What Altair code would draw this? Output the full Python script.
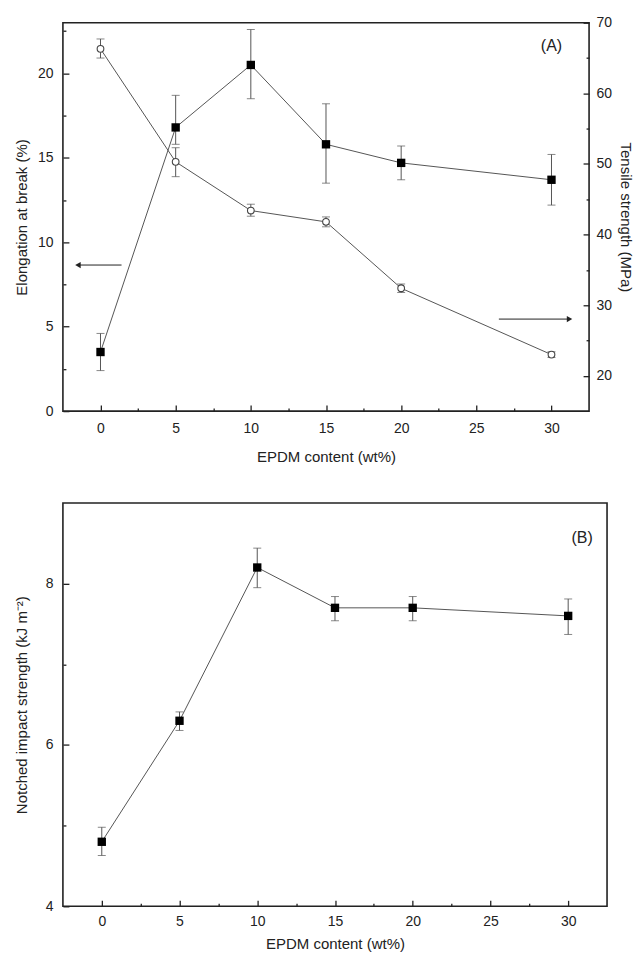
import altair as alt
import pandas as pd

# ---------------- data ----------------
epdm = [0, 5, 10, 15, 20, 30]

elong = [3.5, 16.8, 20.5, 15.8, 14.7, 13.7]
elong_lo = [2.4, 15.8, 18.5, 13.5, 13.7, 12.2]
elong_hi = [4.6, 18.7, 22.6, 18.2, 15.7, 15.2]

tensile = [66.3, 50.3, 43.4, 41.8, 32.4, 23.0]
tensile_lo = [65.0, 48.2, 42.6, 41.1, 31.8, 22.6]
tensile_hi = [67.7, 52.3, 44.3, 42.5, 33.0, 23.4]

impact = [4.8, 6.3, 8.2, 7.7, 7.7, 7.6]
impact_lo = [4.63, 6.18, 7.95, 7.54, 7.54, 7.37]
impact_hi = [4.98, 6.41, 8.44, 7.84, 7.84, 7.81]

x_major = [0, 5, 10, 15, 20, 25, 30]
x_minor = [2.5, 7.5, 12.5, 17.5, 22.5, 27.5]
elong_major = [0, 5, 10, 15, 20]
elong_minor = [2.5, 7.5, 12.5, 17.5, 22.5]
tensile_major = [20, 30, 40, 50, 60, 70]
tensile_minor = [25, 35, 45, 55, 65]
impact_major = [4, 6, 8]
impact_minor = [5, 7]

# annotation arrows (in wt% / elongation units)
arrow_x_tail = [1.4, 26.5]
arrow_x_head = [-1.5, 31.2]
arrow_y = [8.65, 5.45]
arrow_shape = ["triangle-left", "triangle-right"]

label_A = {"x": [30.0], "y": [21.6], "t": ["(A)"]}
label_B = {"x": [30.9], "y": [8.57], "t": ["(B)"]}

X_DOM = [-2.5, 32.5]
EL_DOM = [0, 23]
TS_DOM = [15, 70]
IM_DOM = [4, 9]

FONT = "Liberation Sans"
INK = "#222222"
LINE = "#555555"

dfA = pd.DataFrame({
    "epdm": epdm, "elong": elong, "elong_lo": elong_lo, "elong_hi": elong_hi,
    "tensile": tensile, "tensile_lo": tensile_lo, "tensile_hi": tensile_hi,
})
dfB = pd.DataFrame({"epdm": epdm, "impact": impact, "impact_lo": impact_lo,
                    "impact_hi": impact_hi})
dfArrow = pd.DataFrame({"xt": arrow_x_tail, "xh": arrow_x_head, "y": arrow_y,
                        "shape": arrow_shape})


def xs():
    return alt.Scale(domain=X_DOM, nice=False, zero=False)


def ys(dom):
    return alt.Scale(domain=dom, nice=False, zero=False)


def xnone(field="epdm"):
    return alt.X(f"{field}:Q", scale=xs(), axis=None)


def ynone(field, dom):
    return alt.Y(f"{field}:Q", scale=ys(dom), axis=None)


def tick_axis_x(df, yfield, ydom, values, size):
    return alt.Chart(df).mark_point(opacity=0).encode(
        x=alt.X("epdm:Q", scale=xs(), axis=alt.Axis(
            orient="bottom", values=values, tickSize=size, offset=-size,
            labels=False, domain=False, title=None, grid=False,
            tickColor=INK, tickWidth=1.3)),
        y=ynone(yfield, ydom))


def tick_axis_y(df, field, dom, values, size, orient):
    return alt.Chart(df).mark_point(opacity=0).encode(
        x=xnone(),
        y=alt.Y(f"{field}:Q", scale=ys(dom), axis=alt.Axis(
            orient=orient, values=values, tickSize=size, offset=-size,
            labels=False, domain=False, title=None, grid=False,
            tickColor=INK, tickWidth=1.3)))


def series(df, field, dom, lo, hi, filled):
    line = alt.Chart(df).mark_line(color=LINE, strokeWidth=1).encode(
        x=xnone(), y=ynone(field, dom))
    rule = alt.Chart(df).mark_rule(color=LINE, strokeWidth=1).encode(
        x=xnone(), y=ynone(lo, dom), y2=f"{hi}:Q")
    cap_lo = alt.Chart(df).mark_tick(color=LINE, thickness=1, size=8,
                                     orient="horizontal").encode(
        x=xnone(), y=ynone(lo, dom))
    cap_hi = alt.Chart(df).mark_tick(color=LINE, thickness=1, size=8,
                                     orient="horizontal").encode(
        x=xnone(), y=ynone(hi, dom))
    if filled:
        pts = alt.Chart(df).mark_point(shape="square", filled=True, color="black",
                                       size=70, opacity=1).encode(
            x=xnone(), y=ynone(field, dom))
    else:
        pts = alt.Chart(df).mark_point(shape="circle", filled=True, fill="white",
                                       stroke="#444444", strokeWidth=1.1,
                                       size=45, opacity=1).encode(
            x=xnone(), y=ynone(field, dom))
    return [line, rule, cap_lo, cap_hi, pts]


# ---------------- panel A ----------------
x_main_A = alt.Chart(dfA).mark_point(opacity=0).encode(
    x=alt.X("epdm:Q", scale=xs(), axis=alt.Axis(
        orient="bottom", values=x_major, ticks=False, domain=False, grid=False,
        labelPadding=10, title="EPDM content (wt%)", titlePadding=14)),
    y=ynone("elong", EL_DOM))
y_main_left = alt.Chart(dfA).mark_point(opacity=0).encode(
    x=xnone(),
    y=alt.Y("elong:Q", scale=ys(EL_DOM), axis=alt.Axis(
        orient="left", values=elong_major, ticks=False, domain=False, grid=False,
        labelPadding=10, title="Elongation at break (%)", titlePadding=8)))
y_main_right = alt.Chart(dfA).mark_point(opacity=0).encode(
    x=xnone(),
    y=alt.Y("tensile:Q", scale=ys(TS_DOM), axis=alt.Axis(
        orient="right", values=tensile_major, ticks=False, domain=False,
        grid=False, labelPadding=7, title="Tensile strength (MPa)",
        titlePadding=6)))

arrow_rules = alt.Chart(dfArrow).mark_rule(color=INK, strokeWidth=1).encode(
    x=alt.X("xt:Q", scale=xs(), axis=None), x2="xh:Q",
    y=ynone("y", EL_DOM))
arrow_heads = alt.Chart(dfArrow).mark_point(filled=True, color=INK, size=40,
                                            opacity=1).encode(
    x=alt.X("xh:Q", scale=xs(), axis=None), y=ynone("y", EL_DOM),
    shape=alt.Shape("shape:N", scale=None))
textA = alt.Chart(pd.DataFrame(label_A)).mark_text(
    font=FONT, fontSize=16, color=INK).encode(
    x=alt.X("x:Q", scale=xs(), axis=None), y=ynone("y", EL_DOM), text="t:N")

layersA = (
    series(dfA, "tensile", TS_DOM, "tensile_lo", "tensile_hi", False)
    + series(dfA, "elong", EL_DOM, "elong_lo", "elong_hi", True)
    + [arrow_rules, arrow_heads, textA, x_main_A, y_main_left, y_main_right,
       tick_axis_x(dfA, "elong", EL_DOM, x_major, 6),
       tick_axis_x(dfA, "elong", EL_DOM, x_minor, 3),
       tick_axis_y(dfA, "elong", EL_DOM, elong_major, 6, "left"),
       tick_axis_y(dfA, "elong", EL_DOM, elong_minor, 3, "left"),
       tick_axis_y(dfA, "tensile", TS_DOM, tensile_major, 6, "right"),
       tick_axis_y(dfA, "tensile", TS_DOM, tensile_minor, 3, "right")]
)
panelA = alt.layer(*layersA).resolve_scale(
    x="independent", y="independent").properties(width=527, height=389)

# ---------------- panel B ----------------
x_main_B = alt.Chart(dfB).mark_point(opacity=0).encode(
    x=alt.X("epdm:Q", scale=xs(), axis=alt.Axis(
        orient="bottom", values=x_major, ticks=False, domain=False, grid=False,
        labelPadding=8, title="EPDM content (wt%)", titlePadding=8)),
    y=ynone("impact", IM_DOM))
y_main_B = alt.Chart(dfB).mark_point(opacity=0).encode(
    x=xnone(),
    y=alt.Y("impact:Q", scale=ys(IM_DOM), axis=alt.Axis(
        orient="left", values=impact_major, ticks=False, domain=False,
        grid=False, labelPadding=10, title="Notched impact strength (kJ m⁻²)",
        titlePadding=16)))
textB = alt.Chart(pd.DataFrame(label_B)).mark_text(
    font=FONT, fontSize=16, color=INK).encode(
    x=alt.X("x:Q", scale=xs(), axis=None), y=ynone("y", IM_DOM), text="t:N")

layersB = (
    series(dfB, "impact", IM_DOM, "impact_lo", "impact_hi", True)
    + [textB, x_main_B, y_main_B,
       tick_axis_x(dfB, "impact", IM_DOM, x_major, 6),
       tick_axis_x(dfB, "impact", IM_DOM, x_minor, 3),
       tick_axis_y(dfB, "impact", IM_DOM, impact_major, 6, "left"),
       tick_axis_y(dfB, "impact", IM_DOM, impact_minor, 3, "left")]
)
panelB = alt.layer(*layersB).resolve_scale(
    x="independent", y="independent").properties(width=545, height=404)

chart = alt.vconcat(panelA, panelB, spacing=37).properties(
    padding={"left": 5, "top": 6, "right": 0, "bottom": 0},
    background="white",
).configure_view(stroke=INK, strokeWidth=1.6).configure_axis(
    labelFont=FONT, titleFont=FONT, labelFontSize=14, titleFontSize=15,
    titleFontWeight="normal", labelColor=INK, titleColor=INK
)

chart.save("out.html", embed_options={"renderer": "svg", "actions": False})
